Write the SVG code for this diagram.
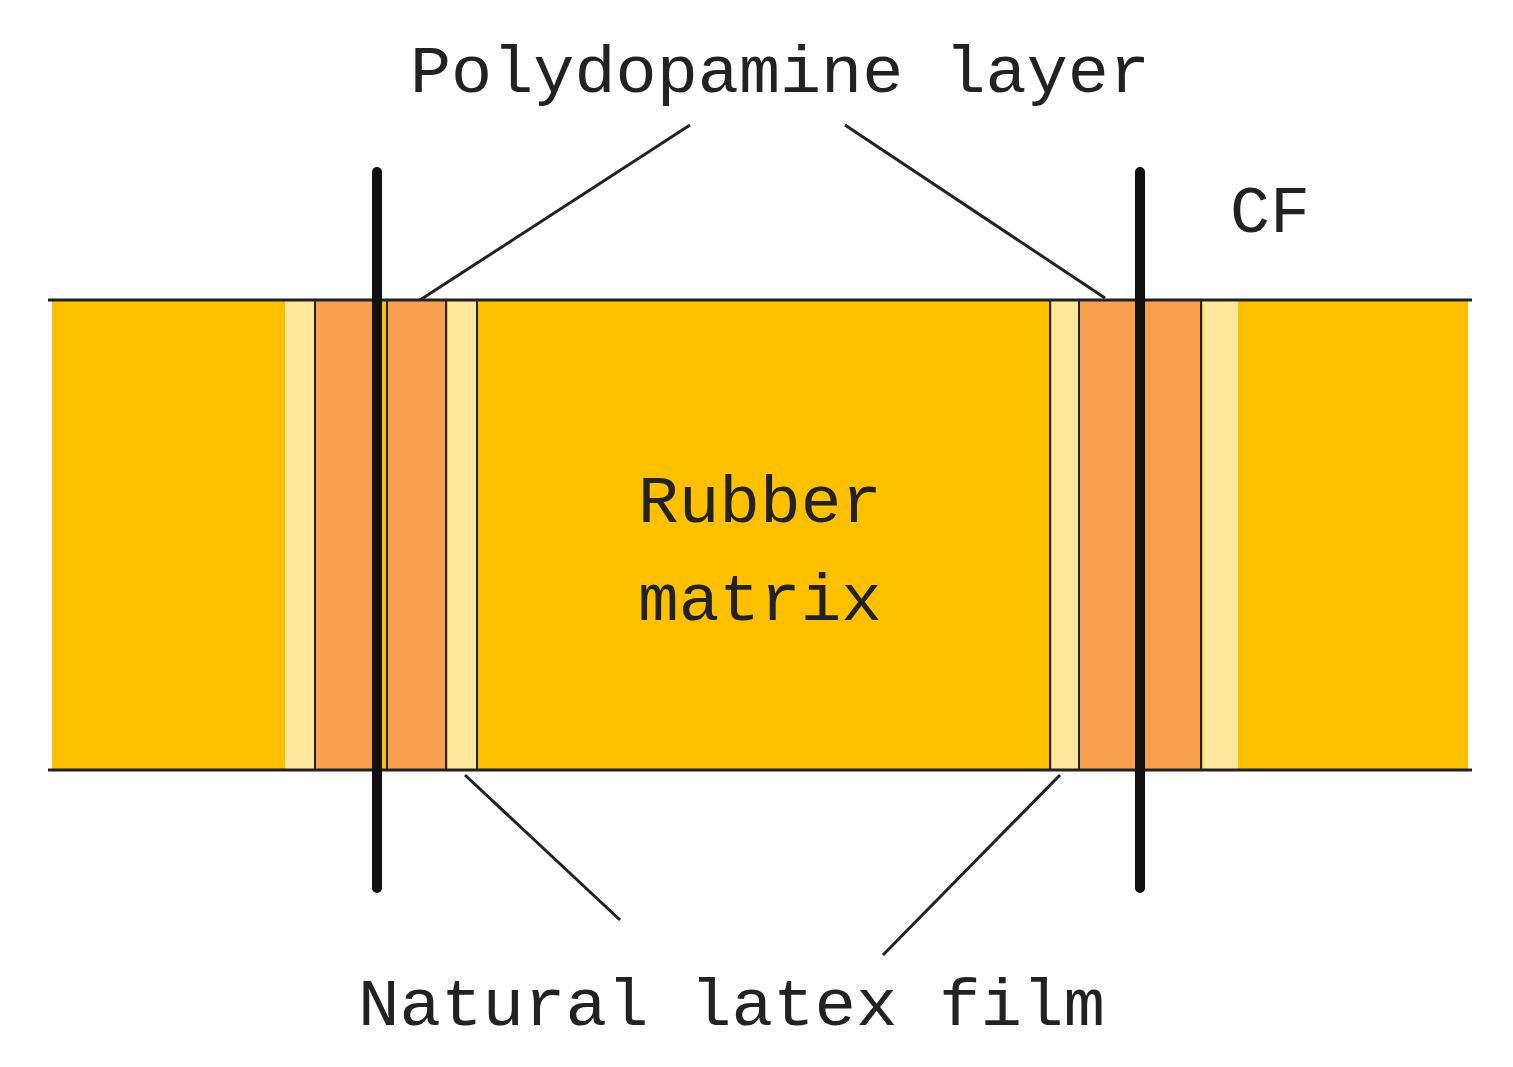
<svg xmlns="http://www.w3.org/2000/svg" width="1513" height="1067" viewBox="0 0 1513 1067">
<style>
.y{fill:#FFC000}.o{fill:#F9A050}.l{fill:#FFE79C}
.t{font-family:"Liberation Mono",monospace;fill:#222}
.ln{stroke:#222;stroke-width:3;fill:none}
.cf{stroke:#111;stroke-width:10;stroke-linecap:round}
</style>
<rect width="1513" height="1067" fill="#fff"/>
<g id="band">
<rect class="y" x="52" y="300" width="1416" height="470"/>
<rect class="l" x="285" y="300" width="30" height="470"/>
<rect class="o" x="316" y="300" width="56" height="470"/>
<rect class="o" x="387" y="300" width="58" height="470"/>
<rect class="l" x="448" y="300" width="28" height="470"/>
<rect class="l" x="1052" y="300" width="26" height="470"/>
<rect class="o" x="1080" y="300" width="55" height="470"/>
<rect class="o" x="1145" y="300" width="55" height="470"/>
<rect class="l" x="1203" y="300" width="35" height="470"/>
<g stroke="#222" stroke-width="2">
<line x1="315" y1="300" x2="315" y2="770"/><line x1="387" y1="300" x2="387" y2="770"/><line x1="446" y1="300" x2="446" y2="770"/><line x1="477" y1="300" x2="477" y2="770"/>
<line x1="1050" y1="300" x2="1050" y2="770"/><line x1="1079" y1="300" x2="1079" y2="770"/><line x1="1201" y1="300" x2="1201" y2="770"/>
</g>
<line class="ln" x1="48" y1="300" x2="1472" y2="300"/>
<line class="ln" x1="48" y1="770" x2="1472" y2="770"/>
</g>
<g id="cf-fibers">
<line class="cf" x1="377" y1="172" x2="377" y2="888"/>
<line class="cf" x1="1140" y1="172" x2="1140" y2="888"/>
</g>
<g id="connectors">
<line class="ln" x1="690" y1="125" x2="420" y2="300"/>
<line class="ln" x1="845" y1="125" x2="1105" y2="298"/>
<line class="ln" x1="465" y1="775" x2="620" y2="920"/>
<line class="ln" x1="1060" y1="775" x2="883" y2="955"/>
</g>
<g id="labels">
<text class="t" x="410" y="92" font-size="66" textLength="740" lengthAdjust="spacingAndGlyphs">Polydopamine layer</text>
<text class="t" x="1230" y="232" font-size="66" textLength="80" lengthAdjust="spacingAndGlyphs">CF</text>
<text class="t" x="638" y="522" font-size="66" textLength="244" lengthAdjust="spacingAndGlyphs">Rubber</text>
<text class="t" x="638" y="620" font-size="66" textLength="244" lengthAdjust="spacingAndGlyphs">matrix</text>
<text class="t" x="358" y="1025" font-size="66" textLength="747" lengthAdjust="spacingAndGlyphs">Natural latex film</text>
</g>
</svg>
